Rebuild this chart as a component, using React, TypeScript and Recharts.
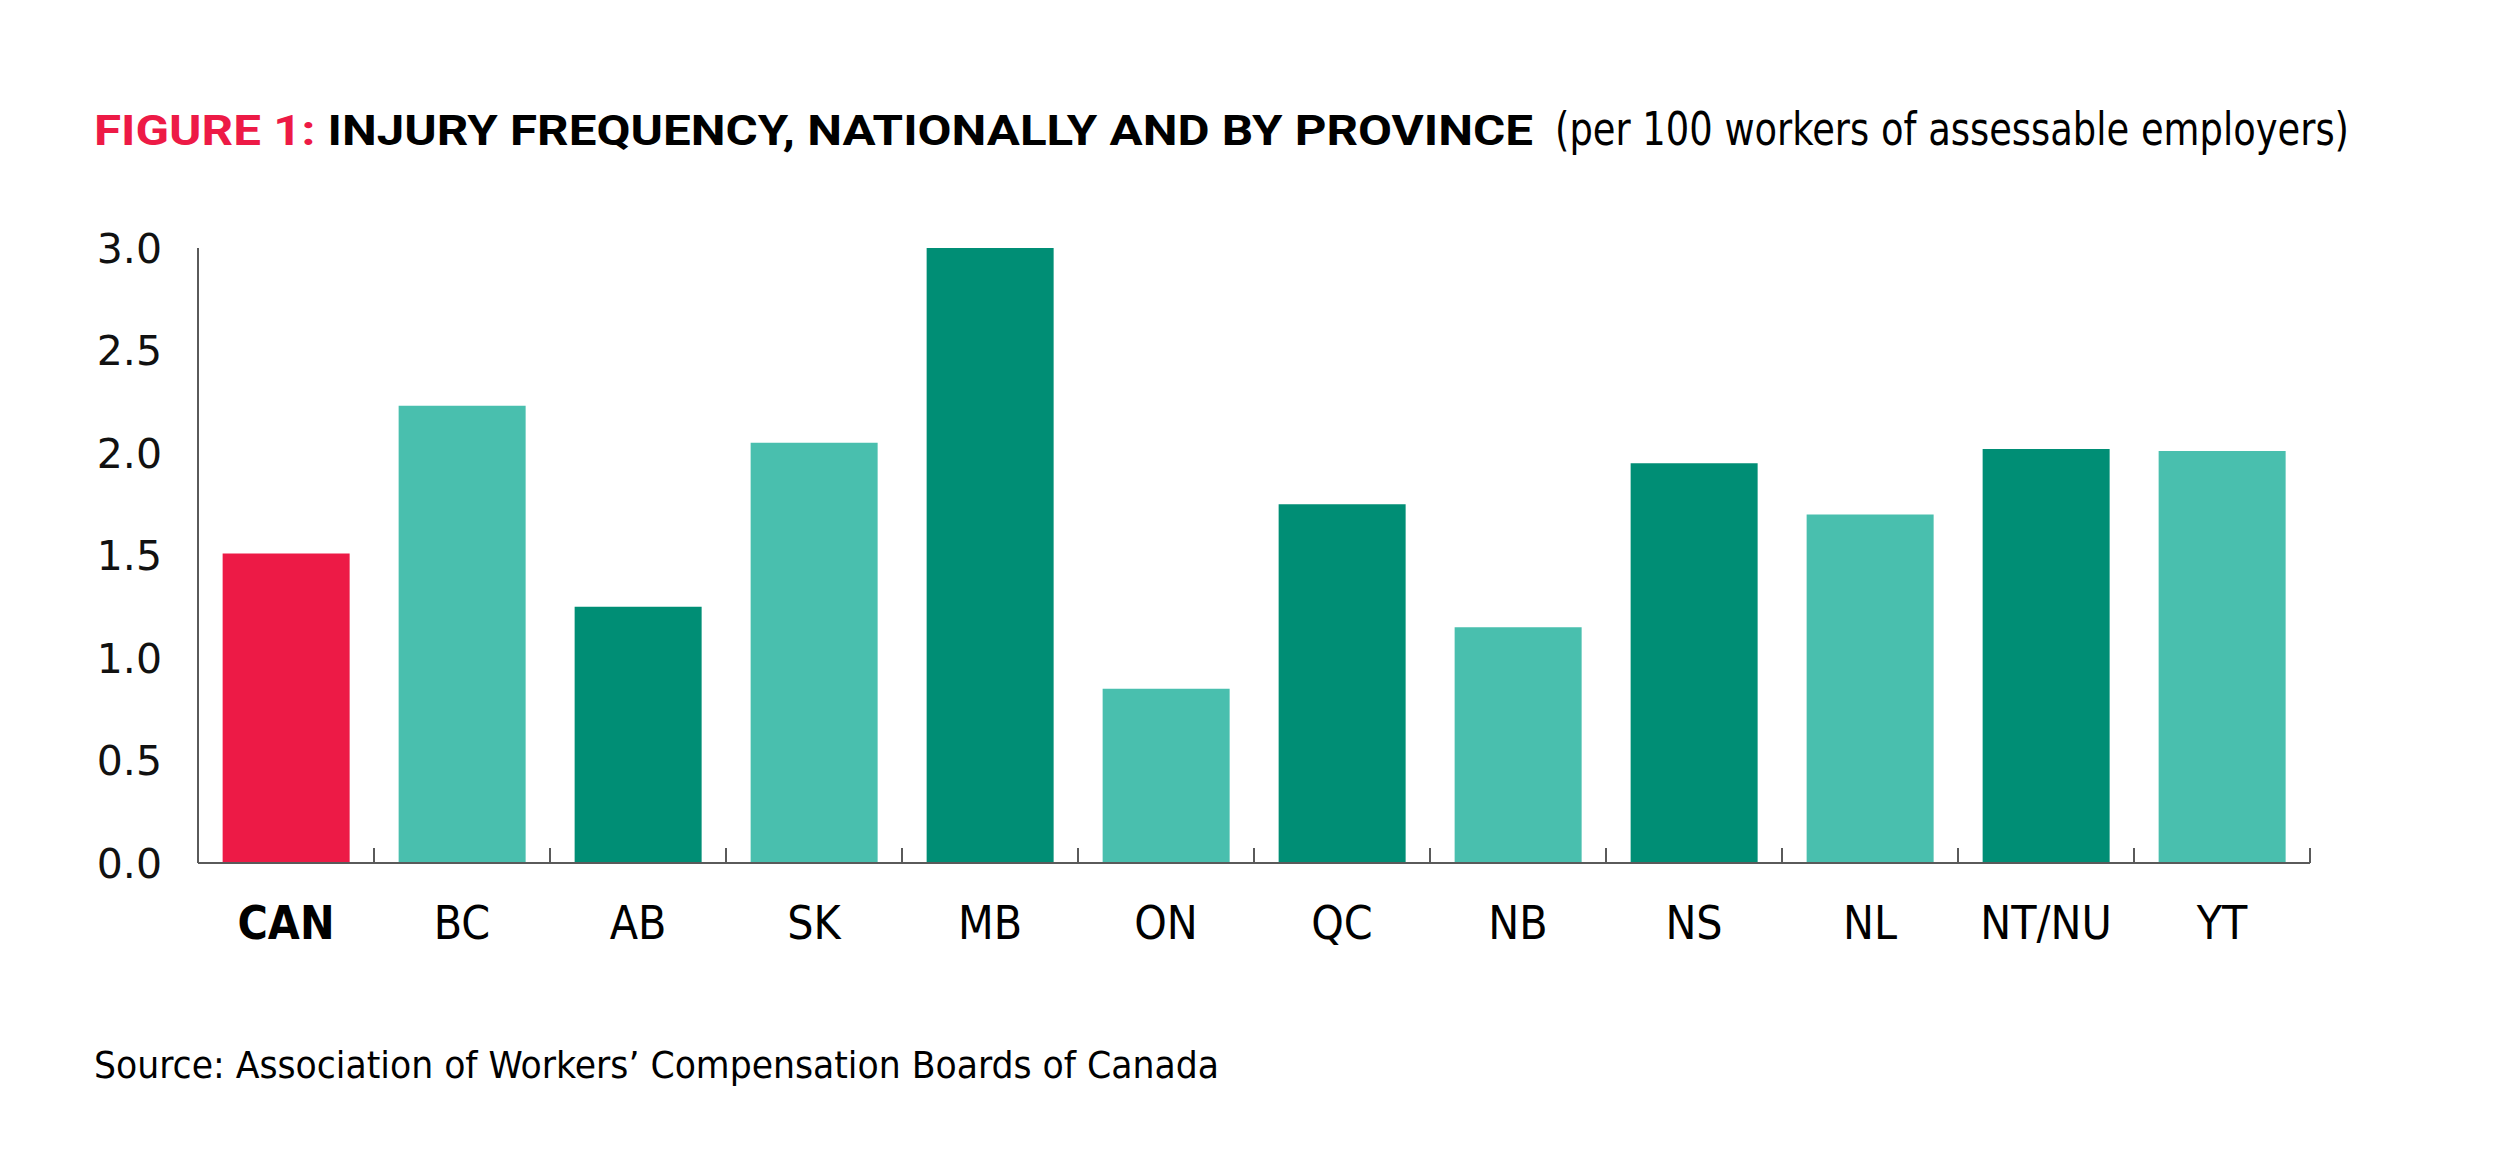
import React from "react";
import { BarChart, Bar, XAxis, YAxis, Cell } from "recharts";

// injury frequency per 100 workers of assessable employers
const categories = ["CAN", "BC", "AB", "SK", "MB", "ON", "QC", "NB", "NS", "NL", "NT/NU", "YT"];
const injuryRate = [1.51, 2.23, 1.25, 2.05, 3.0, 0.85, 1.75, 1.15, 1.95, 1.7, 2.02, 2.01];
const yTicks = [0, 0.5, 1, 1.5, 2, 2.5, 3];

const RED = "#ED1A46";
const DARK = "#008E75";
const LIGHT = "#49BFAE";
const AXIS = "#5a5a5a";
const NARROW = '"Liberation Sans Narrow", "DejaVu Sans Condensed", "Arial Narrow", sans-serif';
const WIDE = '"DejaVu Sans", sans-serif';

const data = categories.map((name, i) => ({ name, value: injuryRate[i] }));

function barColor(i: number) {
  if (i === 0) return RED;
  return i % 2 === 1 ? LIGHT : DARK;
}

// label under the bar + small upward tick on the right edge of the band
function CategoryTick(props: any) {
  const { x, y, payload, width, visibleTicksCount } = props;
  const bold = payload.value === "CAN";
  const half =
    typeof payload.offset === "number" && payload.offset > 0
      ? payload.offset
      : width / visibleTicksCount / 2;
  return (
    <g>
      <line x1={x + half} x2={x + half} y1={y} y2={y - 15} stroke={AXIS} strokeWidth={2} />
      <text
        x={x}
        y={y}
        dy={76}
        textAnchor="middle"
        fontFamily={NARROW}
        fontSize={46}
        fontWeight={bold ? 700 : 400}
        fill="#000"
      >
        {payload.value}
      </text>
    </g>
  );
}

export default function App() {
  return (
    <div style={{ position: "absolute", left: 0, top: 0, width: 2500, height: 1169, background: "#fff" }}>
      <BarChart
        width={2500}
        height={1169}
        data={data}
        margin={{ top: 248, right: 190, left: 0, bottom: 206 }}
        barCategoryGap="14%"
      >
        <YAxis
          domain={[0, 3]}
          ticks={yTicks}
          width={198}
          tickFormatter={(v: number) => v.toFixed(1)}
          tick={{ fontFamily: WIDE, fontSize: 41, fill: "#111" }}
          tickLine={false}
          tickSize={0}
          tickMargin={36}
          axisLine={{ stroke: AXIS, strokeWidth: 2 }}
        />
        <XAxis
          dataKey="name"
          height={100}
          interval={0}
          tick={<CategoryTick />}
          tickLine={false}
          tickSize={0}
          tickMargin={0}
          axisLine={{ stroke: AXIS, strokeWidth: 2 }}
        />
        <Bar dataKey="value" isAnimationActive={false}>
          {data.map((d, i) => (
            <Cell key={d.name} fill={barColor(i)} />
          ))}
        </Bar>
      </BarChart>

      <svg
        width={2500}
        height={1169}
        style={{ position: "absolute", left: 0, top: 0, pointerEvents: "none" }}
      >
        <text
          x={94}
          y={145}
          fontFamily='Roboto, "DejaVu Sans", sans-serif'
          fontWeight={700}
          fontSize={42}
          textLength={1439}
          lengthAdjust="spacingAndGlyphs"
          fill="#000"
        >
          <tspan fill={RED}>FIGURE 1: </tspan>
          INJURY FREQUENCY, NATIONALLY AND BY PROVINCE
        </text>
        <text
          x={1555}
          y={145}
          fontFamily={NARROW}
          fontSize={46}
          textLength={794}
          lengthAdjust="spacingAndGlyphs"
          fill="#000"
        >
          (per 100 workers of assessable employers)
        </text>
        <text
          x={94}
          y={1078}
          fontFamily={NARROW}
          fontSize={38}
          textLength={1125}
          lengthAdjust="spacingAndGlyphs"
          fill="#000"
        >
          Source: Association of Workers’ Compensation Boards of Canada
        </text>
      </svg>
    </div>
  );
}
